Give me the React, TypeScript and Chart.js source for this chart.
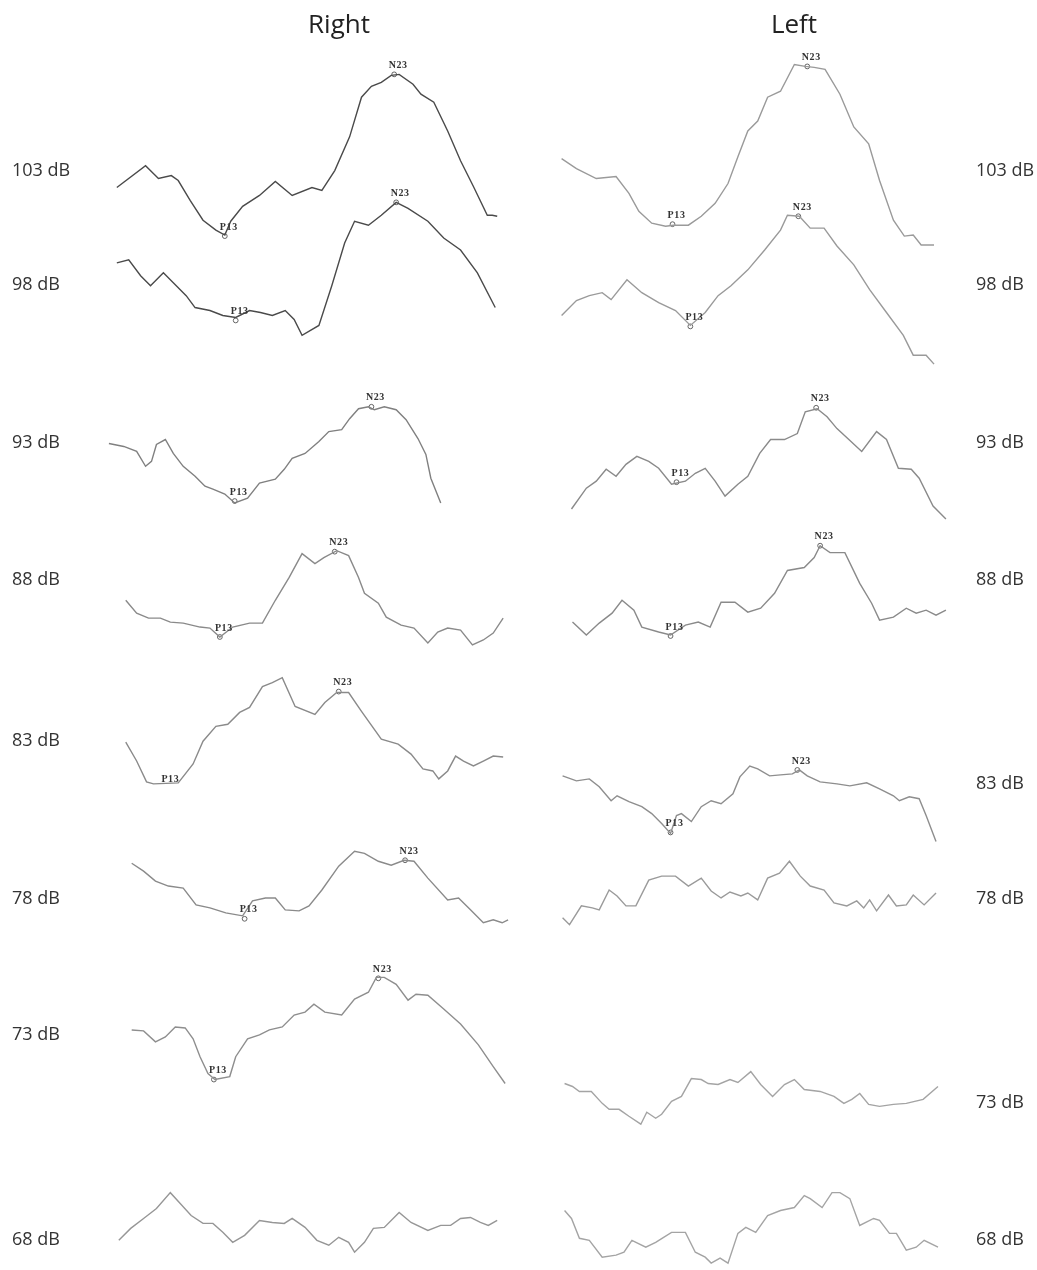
import React, { useEffect, useRef } from "react";
import { Chart, registerables } from "chart.js";

Chart.register(...registerables);

type Pt = [number, number];

// Stimulus levels (tick labels)
const levels = ["103 dB", "98 dB", "93 dB", "88 dB", "83 dB", "78 dB", "73 dB", "68 dB"];

// Right ear traces (sample position, response value)
const right103: Pt[] = [[113,184],[142,162],[155,175],[168,172],[175,177],[187,197],[200,217],[213,227],[222,232],[228,218],[240,203],[257,192],[273,178],[290,192],[310,184],[320,187],[333,167],[348,133],[360,93],[370,82],[380,78],[390,71],[398,70],[412,80],[420,90],[433,98],[447,127],[460,157],[473,183],[487,212],[492,212],[497,213]];
const right98: Pt[] = [[113,260],[125,257],[137,273],[147,283],[160,270],[170,280],[183,293],[192,305],[207,308],[220,313],[233,315],[247,308],[258,310],[270,313],[283,308],[292,317],[300,333],[317,323],[330,283],[343,240],[353,218],[367,222],[380,212],[395,199],[407,205],[427,218],[443,235],[460,247],[477,270],[495,305]];
const right93: Pt[] = [[105,442],[120,445],[133,450],[142,465],[148,460],[153,443],[162,438],[170,452],[180,465],[192,475],[202,485],[210,488],[222,493],[232,502],[245,497],[257,482],[273,478],[282,468],[290,457],[303,452],[317,440],[327,430],[340,428],[348,417],[357,407],[367,405],[373,408],[383,405],[395,408],[405,418],[417,437],[425,453],[430,477],[440,502]];
const right88: Pt[] = [[122,600],[133,613],[145,618],[157,618],[167,622],[180,623],[197,627],[207,628],[217,637],[230,627],[247,623],[260,623],[273,600],[287,577],[300,553],[313,563],[322,557],[335,550],[347,555],[357,577],[363,593],[377,603],[385,617],[400,625],[413,628],[427,643],[437,632],[447,628],[460,630],[472,645],[483,640],[493,633],[503,618]];
const right83: Pt[] = [[122,743],[133,762],[143,783],[150,785],[175,784],[190,765],[200,742],[213,727],[225,725],[237,713],[247,708],[260,687],[270,683],[280,678],[293,707],[313,715],[323,703],[335,693],[347,693],[360,712],[380,740],[397,745],[410,755],[422,770],[432,772],[438,780],[447,772],[455,757],[463,762],[473,767],[483,762],[493,757],[503,758]];
const right78: Pt[] = [[128,865],[140,873],[152,883],[165,888],[180,890],[193,907],[207,910],[223,915],[240,918],[250,903],[263,900],[273,900],[283,912],[297,913],[307,908],[320,892],[337,868],[353,853],[363,855],[377,863],[390,867],[403,862],[413,863],[427,880],[447,902],[458,900],[470,912],[483,925],[493,922],[502,925],[508,922]];
const right73: Pt[] = [[128,1033],[140,1034],[152,1045],[162,1040],[172,1030],[182,1031],[190,1042],[197,1060],[205,1077],[212,1083],[227,1080],[233,1060],[245,1042],[257,1038],[267,1033],[280,1030],[292,1018],[303,1015],[312,1007],[323,1015],[340,1018],[353,1002],[367,995],[375,980],[383,980],[395,987],[407,1003],[415,997],[427,998],[443,1012],[460,1027],[478,1048],[493,1070],[505,1087]];
const right68: Pt[] = [[115,1245],[127,1233],[140,1223],[153,1213],[167,1197],[177,1208],[188,1220],[200,1228],[210,1228],[220,1237],[230,1247],[242,1240],[257,1225],[270,1227],[282,1228],[290,1223],[303,1232],[315,1245],[327,1250],[337,1242],[347,1247],[353,1257],[363,1247],[372,1233],[383,1232],[398,1217],[410,1227],[427,1235],[440,1230],[450,1230],[460,1223],[470,1222],[480,1227],[488,1230],[497,1225]];

// Left ear traces
const left103: Pt[] = [[562,155],[577,165],[597,175],[617,173],[630,190],[640,208],[653,220],[667,223],[675,222],[690,222],[703,213],[717,200],[730,180],[740,153],[750,127],[760,117],[770,93],[783,87],[797,60],[808,62],[817,63],[828,65],[843,90],[857,123],[872,140],[883,177],[897,217],[908,233],[917,232],[925,242],[938,242]];
const left98: Pt[] = [[562,313],[577,298],[590,293],[603,290],[612,297],[628,277],[643,290],[660,300],[677,308],[692,323],[707,310],[720,293],[733,283],[750,267],[767,247],[783,227],[790,212],[802,213],[813,225],[827,225],[840,243],[857,262],[873,287],[890,310],[907,333],[917,353],[930,353],[938,362]];
const left93: Pt[] = [[572,508],[587,487],[597,480],[607,468],[617,475],[627,463],[638,455],[650,460],[660,467],[673,483],[687,480],[697,472],[707,467],[717,480],[727,495],[740,483],[750,475],[762,452],[773,438],[787,438],[800,432],[808,410],[820,407],[830,415],[840,427],[852,438],[865,450],[880,430],[890,438],[902,467],[915,468],[923,477],[937,505],[950,518]];
const left88: Pt[] = [[573,622],[587,635],[600,623],[613,613],[623,600],[635,610],[643,627],[660,632],[672,635],[687,625],[700,622],[712,627],[723,602],[737,602],[750,612],[763,608],[777,593],[790,570],[807,567],[817,557],[823,545],[833,552],[848,552],[863,583],[875,603],[883,620],[897,617],[910,608],[920,613],[930,610],[940,615],[950,610]];
const left83: Pt[] = [[563,777],[577,782],[590,780],[600,788],[612,802],[618,797],[630,803],[643,808],[653,815],[663,825],[672,835],[678,817],[683,815],[693,823],[703,808],[713,802],[723,805],[735,795],[742,778],[752,767],[760,770],[772,777],[783,776],[795,775],[802,771],[810,777],[823,783],[840,785],[853,787],[870,784],[883,790],[897,797],[903,802],[913,798],[923,800],[930,817],[940,843]];
const left78: Pt[] = [[563,920],[570,927],[582,908],[593,910],[600,912],[610,892],[618,898],[627,908],[637,908],[650,882],[663,878],[677,878],[690,888],[703,880],[713,893],[723,900],[732,894],[743,898],[750,895],[760,902],[770,880],[782,875],[792,863],[803,878],[813,888],[827,892],[837,905],[850,908],[860,903],[867,910],[873,902],[880,913],[892,897],[900,908],[910,907],[917,897],[928,907],[940,895]];
const left73: Pt[] = [[565,1087],[573,1090],[580,1095],[592,1095],[603,1107],[610,1113],[620,1113],[630,1120],[642,1128],[648,1116],[657,1122],[663,1118],[673,1105],[683,1100],[693,1082],[703,1083],[710,1087],[720,1088],[732,1083],[740,1086],[753,1075],[763,1088],[775,1100],[787,1088],[797,1083],[807,1093],[823,1095],[837,1100],[847,1107],[855,1103],[863,1097],[872,1108],[883,1110],[897,1108],[910,1107],[927,1103],[942,1090]];
const left68: Pt[] = [[565,1215],[572,1223],[580,1243],[590,1245],[603,1262],[617,1260],[625,1257],[633,1245],[647,1252],[657,1247],[665,1242],[673,1237],[687,1237],[697,1257],[707,1262],[713,1268],[722,1263],[730,1268],[740,1238],[748,1232],[758,1237],[770,1220],[783,1215],[797,1212],[807,1200],[813,1203],[825,1212],[835,1197],[843,1197],[853,1203],[863,1230],[877,1223],[883,1225],[893,1238],[900,1238],[910,1255],[920,1252],[928,1245],[942,1252]];

// Identified peaks: [position, value, name, marker shown]
const rightPeaks: [number, number, string, boolean][] = [
  [393, 70, "N23", true], [222, 233, "P13", true],
  [395, 199, "N23", true], [233, 318, "P13", true],
  [370, 405, "N23", true], [232, 500, "P13", true],
  [333, 551, "N23", true], [217, 637, "P13", true],
  [337, 692, "N23", true], [163, 787, "P13", false],
  [404, 862, "N23", true], [242, 921, "P13", true],
  [377, 981, "N23", true], [211, 1083, "P13", true],
];
const leftPeaks: [number, number, string, boolean][] = [
  [810, 62, "N23", true], [674, 221, "P13", true],
  [801, 213, "N23", true], [692, 324, "P13", true],
  [819, 406, "N23", true], [678, 481, "P13", true],
  [823, 545, "N23", true], [672, 636, "P13", true],
  [800, 771, "N23", true], [672, 834, "P13", true],
];

const rightTraces = [right103, right98, right93, right88, right83, right78, right73, right68];
const leftTraces = [left103, left98, left93, left88, left83, left78, left73, left68];

// Label layout
const rightLabelY = [170, 284, 442, 579, 740, 898, 1034, 1239];
const leftLabelY = [170, 284, 442, 579, 783, 898, 1102, 1239];

const W = 1037;
const H = 1270;

const peakLabelPlugin = {
  id: "peakLabels",
  afterDatasetsDraw(chart: any) {
    const ctx = chart.ctx;
    chart.data.datasets.forEach((ds: any, i: number) => {
      if (!ds.peakNames) return;
      const meta = chart.getDatasetMeta(i);
      ctx.save();
      ctx.font = "bold 10px 'Liberation Serif', 'DejaVu Serif', serif";
      try { (ctx as any).letterSpacing = "0.6px"; } catch (e) {}
      ctx.fillStyle = "#333";
      ctx.textAlign = "center";
      ctx.textBaseline = "middle";
      meta.data.forEach((el: any, j: number) => {
        const dy = ds.peakShown[j] ? -9 : -6;
        ctx.fillText(ds.peakNames[j], el.x + 4, el.y + dy);
      });
      ctx.restore();
    });
  },
};

export default function App() {
  const ref = useRef<HTMLCanvasElement | null>(null);

  useEffect(() => {
    if (!ref.current) return;
    const traceDs = (arr: Pt[][], colors: string[]) =>
      arr.map((t, i) => ({
        type: "line" as const,
        data: t.map(([x, y]) => ({ x, y })),
        borderColor: colors[i],
        borderWidth: 1.4,
        pointRadius: 0,
        tension: 0,
        fill: false,
      }));
    const peakDs = (peaks: [number, number, string, boolean][]) => ({
      type: "scatter" as const,
      data: peaks.map(([x, y]) => ({ x, y })),
      showLine: false,
      pointRadius: peaks.map((p) => (p[3] ? 2.4 : 0)),
      pointBorderWidth: 0.9,
      pointBorderColor: "#555",
      pointBackgroundColor: "rgba(255,255,255,0.9)",
      peakNames: peaks.map((p) => p[2]),
      peakShown: peaks.map((p) => p[3]),
    });
    const rightColors = ["#4a4a4a", "#4a4a4a", "#808080", "#8a8a8a", "#8a8a8a", "#8a8a8a", "#8e8e8e", "#969696"];
    const leftColors = ["#9a9a9a", "#9a9a9a", "#8a8a8a", "#8a8a8a", "#8e8e8e", "#9a9a9a", "#a4a4a4", "#a4a4a4"];
    const chart = new Chart(ref.current, {
      type: "line",
      data: {
        datasets: [
          ...traceDs(rightTraces, rightColors),
          ...traceDs(leftTraces, leftColors),
          peakDs(rightPeaks),
          peakDs(leftPeaks),
        ] as any,
      },
      options: {
        animation: false,
        responsive: false,
        devicePixelRatio: 1,
        layout: { padding: 0 },
        scales: {
          x: { type: "linear", min: 0, max: W, display: false },
          y: { type: "linear", min: 0, max: H, reverse: true, display: false },
        },
        plugins: { legend: { display: false }, tooltip: { enabled: false }, title: { display: false } },
        events: [],
      },
      plugins: [peakLabelPlugin],
    });
    return () => chart.destroy();
  }, []);

  const labelStyle: React.CSSProperties = {
    position: "absolute",
    fontFamily: "'Open Sans', sans-serif",
    fontSize: 18,
    lineHeight: "20px",
    color: "#333",
    whiteSpace: "nowrap",
  };
  const titleStyle: React.CSSProperties = {
    position: "absolute",
    fontFamily: "'Open Sans', sans-serif",
    fontSize: 26,
    lineHeight: "30px",
    color: "#222",
    top: 8,
    transform: "translateX(-50%)",
  };

  return (
    <div style={{ position: "absolute", left: 0, top: 0, width: W, height: H, background: "#fff" }}>
      <canvas ref={ref} width={W} height={H} style={{ position: "absolute", left: 0, top: 0 }} />
      <div style={{ ...titleStyle, left: 339 }}>Right</div>
      <div style={{ ...titleStyle, left: 794 }}>Left</div>
      {levels.map((l, i) => (
        <div key={"r" + i} style={{ ...labelStyle, left: 12, top: rightLabelY[i] - 11 }}>{l}</div>
      ))}
      {levels.map((l, i) => (
        <div key={"l" + i} style={{ ...labelStyle, left: 976, top: leftLabelY[i] - 11 }}>{l}</div>
      ))}
    </div>
  );
}
